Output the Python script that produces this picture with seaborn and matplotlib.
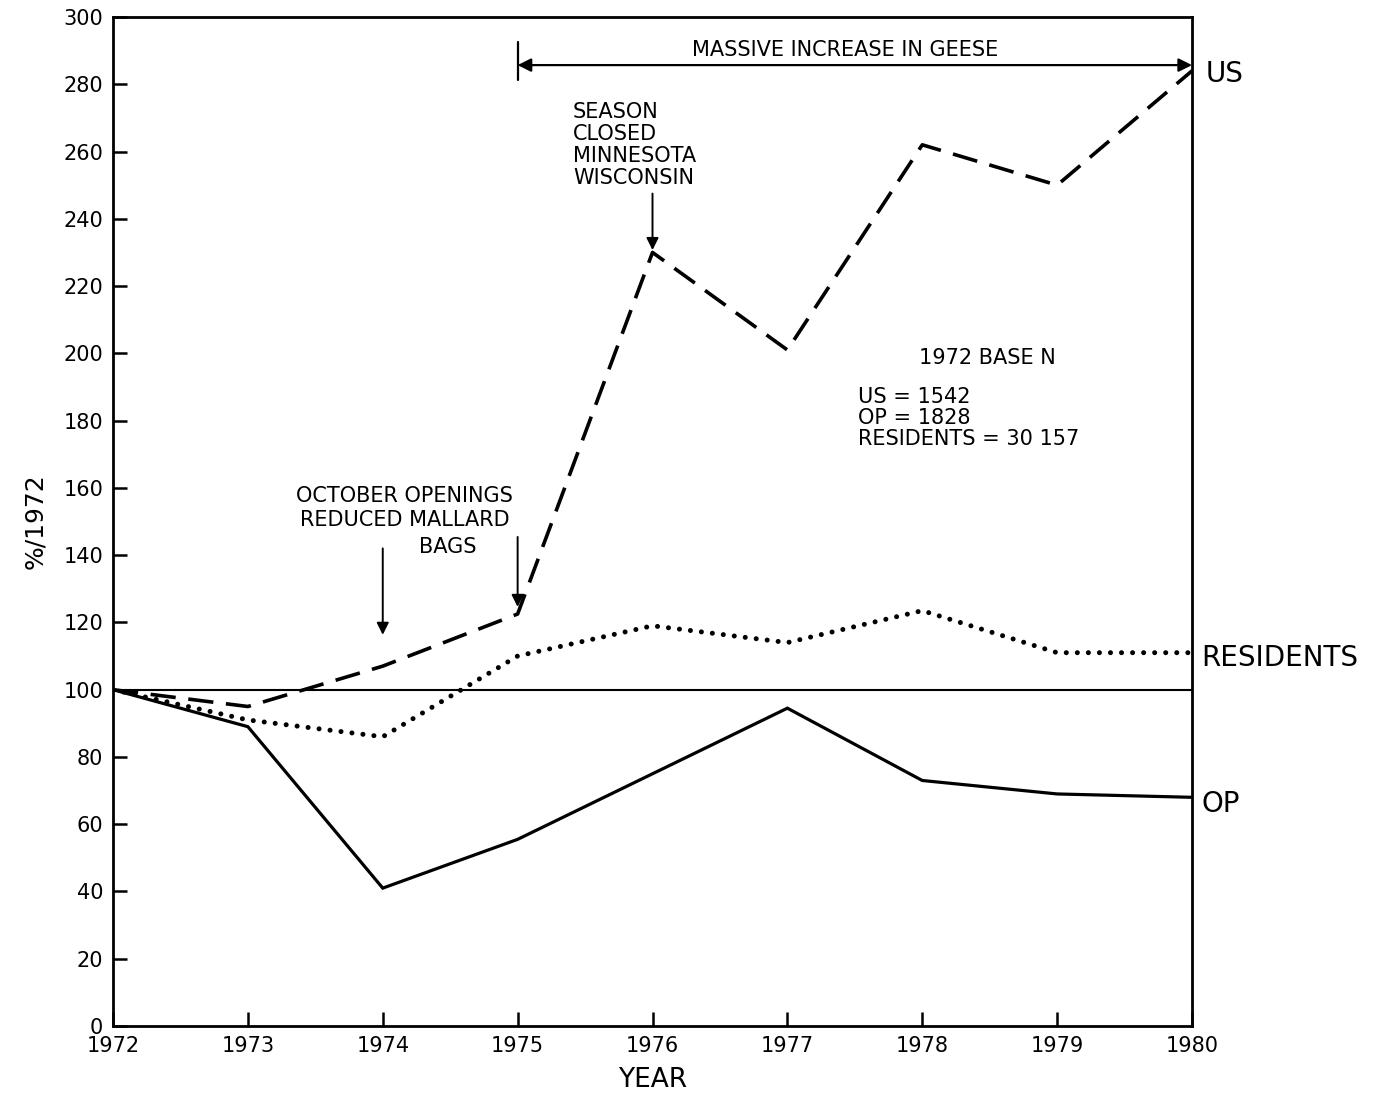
import pandas as pd
import matplotlib
matplotlib.use("Agg")
import matplotlib.pyplot as plt
import seaborn as sns

years = [1972, 1973, 1974, 1975, 1976, 1977, 1978, 1979, 1980]
us = [100, 95, 107, 122.5, 230, 201, 262, 250, 284]
residents = [100, 91, 86, 110, 119, 114, 123.5, 111, 111]
op = [100, 89, 41, 55.5, 75, 94.5, 73, 69, 68]

base_lines = ["US = 1542", "OP = 1828", "RESIDENTS = 30 157"]

df = pd.DataFrame({"year": years, "US": us, "RESIDENTS": residents, "OP": op})

sns.set_style("ticks")
plt.rcParams["font.family"] = ["DejaVu Sans"]
plt.rcParams["text.color"] = "black"
plt.rcParams["axes.labelcolor"] = "black"

fig = plt.figure(figsize=(13.95, 10.97), dpi=100)
ax = fig.add_axes([0.081, 0.0647, 0.7735, 0.9198])

# series
sns.lineplot(data=df, x="year", y="US", ax=ax, color="black", lw=2.6,
             linestyle=(0, (7, 3.5)))
sns.lineplot(data=df, x="year", y="RESIDENTS", ax=ax, color="black", lw=3.6,
             linestyle=(0, (0.01, 2.2)), dash_capstyle="round")
sns.lineplot(data=df, x="year", y="OP", ax=ax, color="black", lw=2.3,
             solid_joinstyle="miter")
ax.axhline(100, color="black", lw=1.5)

ax.set_xlim(1972, 1980)
ax.set_ylim(0, 300)
ax.set_xticks(years)
ax.set_yticks(range(0, 301, 20))
ax.tick_params(axis="both", direction="in", length=10, width=1.8,
               labelsize=15, pad=7, colors="black")
for s in ax.spines.values():
    s.set_linewidth(2)
    s.set_color("black")

ax.set_xlabel("YEAR", fontsize=19, labelpad=8)
ax.set_ylabel("%/1972", fontsize=18, labelpad=12)

# right-side series labels
ax.text(1980.1, 283, "US", fontsize=20, va="center", ha="left", clip_on=False)
ax.text(1980.07, 109.4, "RESIDENTS", fontsize=20, va="center", ha="left", clip_on=False)
ax.text(1980.07, 66, "OP", fontsize=20, va="center", ha="left", clip_on=False)

# massive increase arrow
ax.annotate("", xy=(1980, 285.7), xytext=(1975, 285.7),
            arrowprops=dict(arrowstyle="<|-|>", color="black", lw=1.6,
                            mutation_scale=20, shrinkA=0, shrinkB=0))
ax.plot([1975, 1975], [281.3, 292.6], color="black", lw=1.6)
ax.text(1977.43, 290.2, "MASSIVE INCREASE IN GEESE", fontsize=15, ha="center", va="center")

# season closed
ax.text(1975.41, 262, "SEASON\nCLOSED\nMINNESOTA\nWISCONSIN", fontsize=15,
        ha="left", va="center", linespacing=1.13)
ax.annotate("", xy=(1976, 230.7), xytext=(1976, 247.5),
            arrowprops=dict(arrowstyle="-|>", color="black", lw=1.4,
                            mutation_scale=18, shrinkA=0, shrinkB=0))

# october openings
ax.text(1974.16, 154, "OCTOBER OPENINGS\nREDUCED MALLARD", fontsize=15,
        ha="center", va="center", linespacing=1.25)
ax.text(1974.48, 142.3, "BAGS", fontsize=15, ha="center", va="center")
ax.annotate("", xy=(1974, 116.3), xytext=(1974, 142),
            arrowprops=dict(arrowstyle="-|>", color="black", lw=1.4,
                            mutation_scale=18, shrinkA=0, shrinkB=0))
ax.annotate("", xy=(1975, 124.6), xytext=(1975, 145.4),
            arrowprops=dict(arrowstyle="-|>", color="black", lw=1.4,
                            mutation_scale=18, shrinkA=0, shrinkB=0))

# base N box
ax.text(1978.48, 198.6, "1972 BASE N", fontsize=15, ha="center", va="center")
ax.text(1977.52, 180.8, "\n".join(base_lines), fontsize=15, ha="left", va="center",
        linespacing=1.07)

fig.savefig("out.png", dpi=100)
